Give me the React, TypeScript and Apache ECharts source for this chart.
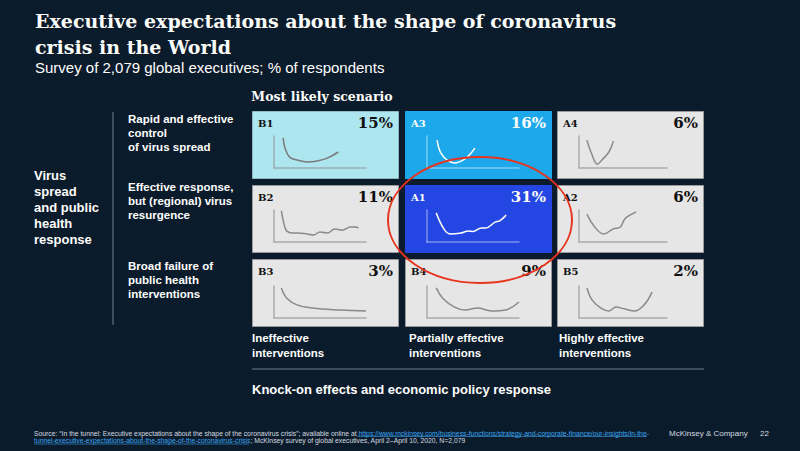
import React, { useEffect, useRef } from "react";
import * as echarts from "echarts";

// ---- data ----
const scenarioCodes = ["B1", "A3", "A4", "B2", "A1", "A2", "B3", "B4", "B5"];
const shares = [15, 16, 6, 11, 31, 6, 3, 9, 2];
const rowLabels = [
  "Rapid and effective\ncontrol\nof virus spread",
  "Effective response,\nbut (regional) virus\nresurgence",
  "Broad failure of\npublic health\ninterventions",
];
const columnLabels = [
  "Ineffective\ninterventions",
  "Partially effective\ninterventions",
  "Highly effective\ninterventions",
];
const curveB1 = [[10, 94], [12, 62], [17, 34], [25, 25], [36, 19], [47, 22], [58, 31], [70, 50]];
const curveA3 = [[11, 87], [15, 47], [23, 22], [30, 16], [41, 28], [48, 47], [52, 62]];
const curveA4 = [[9, 87], [14, 47], [21, 12], [26, 25], [34, 50], [39, 84]];
const curveB2 = [[8, 97], [11, 55], [14, 34], [20, 28], [26, 28], [36, 25], [43, 22], [50, 31], [58, 28], [66, 41], [74, 37], [83, 47], [88, 47], [92, 44]];
const curveA1 = [[10, 91], [19, 38], [26, 25], [37, 28], [45, 34], [50, 33], [59, 44], [64, 44], [74, 62], [79, 66], [86, 84]];
const curveA2 = [[9, 87], [17, 50], [28, 25], [39, 41], [47, 47], [52, 72], [58, 84], [65, 94]];
const curveB3 = [[8, 94], [14, 62], [25, 41], [42, 31], [72, 25], [100, 22]];
const curveB4 = [[10, 94], [17, 62], [30, 34], [41, 25], [55, 31], [70, 22], [85, 25], [100, 50]];
const curveB5 = [[9, 94], [15, 56], [25, 31], [34, 22], [42, 34], [52, 28], [63, 22], [74, 41], [83, 81]];
const curves = [curveB1, curveA3, curveA4, curveB2, curveA1, curveA2, curveB3, curveB4, curveB5];

const BG = "#0a1b2b";
const SANS = '"Liberation Sans", Arial, sans-serif';
const SERIF = '"DejaVu Serif", Georgia, serif';

const cellStyles: Record<string, { fill: string; stroke: string; text: string; axis: string; line: string }> = {
  B1: { fill: "#aee6f0", stroke: "#8fb8c2", text: "#111111", axis: "#9aaeb4", line: "#7a7a7a" },
  A3: { fill: "#1ea8ec", stroke: "#1ea8ec", text: "#ffffff", axis: "rgba(255,255,255,0.4)", line: "#ffffff" },
  A1: { fill: "#2446e2", stroke: "#2446e2", text: "#ffffff", axis: "rgba(255,255,255,0.4)", line: "#ffffff" },
  gray: { fill: "#e6e6e6", stroke: "#9a9a9a", text: "#111111", axis: "#ababab", line: "#8a8a8a" },
};

export default function App() {
  const ref = useRef<HTMLDivElement>(null);
  useEffect(() => {
    document.body.style.margin = "0";
    const chart = echarts.init(ref.current!, null, { renderer: "svg" });
    const colLeft = [252, 405, 557];
    const rowTop = [111, 185, 259];
    const cellW = 146;
    const cellH = 67;

    const grids: any[] = [];
    const xAxes: any[] = [];
    const yAxes: any[] = [];
    const series: any[] = [];
    const elements: any[] = [];

    scenarioCodes.forEach((code, i) => {
      const r = Math.floor(i / 3);
      const c = i % 3;
      const st = cellStyles[code] || cellStyles.gray;
      const L = colLeft[c];
      const T = rowTop[r];
      elements.push({
        type: "rect",
        z: -1,
        shape: { x: L + 0.5, y: T + 0.5, width: cellW, height: cellH },
        style: { fill: st.fill, stroke: st.stroke, lineWidth: 1 },
      });
      elements.push({
        type: "text",
        z: 10,
        x: L + 6,
        y: T + 12,
        style: { text: code, fill: st.text, font: `bold 10px ${SERIF}`, align: "left", verticalAlign: "middle" },
      });
      elements.push({
        type: "text",
        z: 10,
        x: L + cellW - 5,
        y: T + 12,
        style: { text: `${shares[i]}%`, fill: st.text, font: `bold 15px ${SERIF}`, align: "right", verticalAlign: "middle" },
      });
      grids.push({
        left: L + 22,
        top: T + (r === 2 ? 27 : 25),
        width: c === 2 ? 88 : 92,
        height: 32,
        containLabel: false,
      });
      const axisCommon = {
        type: "value",
        min: 0,
        max: 100,
        gridIndex: i,
        z: 5,
        axisLabel: { show: false },
        axisTick: { show: false },
        splitLine: { show: false },
        axisLine: { show: true, onZero: false, lineStyle: { color: st.axis, width: 1.5 } },
      };
      xAxes.push({ ...axisCommon, position: "bottom" });
      yAxes.push({ ...axisCommon, position: "left" });
      series.push({
        type: "line",
        xAxisIndex: i,
        yAxisIndex: i,
        data: curves[i],
        smooth: 0.4,
        showSymbol: false,
        silent: true,
        z: 6,
        lineStyle: { color: st.line, width: 1.5 },
      });
    });

    // titles
    elements.push({
      type: "text", z: 10, x: 35, y: 8,
      style: { text: "Executive expectations about the shape of coronavirus\ncrisis in the World", fill: "#ffffff", font: `bold 19px ${SERIF}`, lineHeight: 26, align: "left", verticalAlign: "top" },
    });
    elements.push({
      type: "text", z: 10, x: 35, y: 67,
      style: { text: "Survey of 2,079 global executives; % of respondents", fill: "#ffffff", font: `15px ${SANS}`, align: "left", verticalAlign: "middle" },
    });
    elements.push({
      type: "text", z: 10, x: 322, y: 96,
      style: { text: "Most likely scenario", fill: "#ffffff", font: `bold 12.5px ${SERIF}`, align: "center", verticalAlign: "middle" },
    });
    // left label and divider
    elements.push({
      type: "text", z: 10, x: 34, y: 207,
      style: { text: "Virus\nspread\nand public\nhealth\nresponse", fill: "#ffffff", font: `bold 13px ${SANS}`, lineHeight: 16, align: "left", verticalAlign: "middle" },
    });
    elements.push({
      type: "line", z: 10,
      shape: { x1: 113, y1: 112, x2: 113, y2: 325 },
      style: { stroke: "#4f5f6f", lineWidth: 1.5 },
    });
    // row labels
    const rowLabelY = [133, 201, 280];
    rowLabels.forEach((t, r) => {
      elements.push({
        type: "text", z: 10, x: 128, y: rowLabelY[r],
        style: { text: t, fill: "#ffffff", font: `bold 11.5px ${SANS}`, lineHeight: 14, align: "left", verticalAlign: "middle" },
      });
    });
    // column labels
    const colLabelX = [252, 409, 559];
    columnLabels.forEach((t, c) => {
      elements.push({
        type: "text", z: 10, x: colLabelX[c], y: 345,
        style: { text: t, fill: "#ffffff", font: `bold 11.5px ${SANS}`, lineHeight: 15, align: "left", verticalAlign: "middle" },
      });
    });
    elements.push({
      type: "line", z: 10,
      shape: { x1: 252, y1: 369, x2: 704, y2: 369 },
      style: { stroke: "#4f5f6f", lineWidth: 1.5 },
    });
    elements.push({
      type: "text", z: 10, x: 252, y: 389,
      style: { text: "Knock-on effects and economic policy response", fill: "#ffffff", font: `bold 13px ${SANS}`, align: "left", verticalAlign: "middle" },
    });
    // highlight ellipse
    elements.push({
      type: "ellipse", z: 20,
      shape: { cx: 480, cy: 220, rx: 92, ry: 63 },
      style: { fill: "none", stroke: "#e8341c", lineWidth: 2 },
    });
    // footer
    const rich = {
      t: { fill: "#d8dce0", font: `6.8px ${SANS}` },
      u: { fill: "#3ba6f0", font: `6.8px ${SANS}` },
    };
    elements.push({
      type: "text", z: 10, x: 34, y: 433,
      style: {
        text: "{t|Source: “In the tunnel: Executive expectations about the shape of the coronavirus crisis”; available online at }{u|https://www.mckinsey.com/business-functions/strategy-and-corporate-finance/our-insights/in-the-}",
        rich, align: "left", verticalAlign: "middle",
      },
    });
    elements.push({
      type: "text", z: 10, x: 34, y: 440.5,
      style: {
        text: "{u|tunnel-executive-expectations-about-the-shape-of-the-coronavirus-crisis}{t|; McKinsey survey of global executives, April 2–April 10, 2020, N=2,079}",
        rich, align: "left", verticalAlign: "middle",
      },
    });
    elements.push({
      type: "line", z: 10,
      shape: { x1: 357, y1: 436.5, x2: 647, y2: 436.5 },
      style: { stroke: "#3ba6f0", lineWidth: 0.6 },
    });
    elements.push({
      type: "line", z: 10,
      shape: { x1: 34, y1: 444, x2: 249, y2: 444 },
      style: { stroke: "#3ba6f0", lineWidth: 0.6 },
    });
    elements.push({
      type: "text", z: 10, x: 669, y: 433,
      style: { text: "McKinsey & Company", fill: "#d8dce0", font: `8px ${SANS}`, align: "left", verticalAlign: "middle" },
    });
    elements.push({
      type: "text", z: 10, x: 760, y: 433,
      style: { text: "22", fill: "#d8dce0", font: `8px ${SANS}`, align: "left", verticalAlign: "middle" },
    });

    chart.setOption({
      animation: false,
      backgroundColor: BG,
      grid: grids,
      xAxis: xAxes,
      yAxis: yAxes,
      series,
      graphic: { elements },
    });
    return () => chart.dispose();
  }, []);
  return <div ref={ref} style={{ width: 800, height: 451 }} />;
}
